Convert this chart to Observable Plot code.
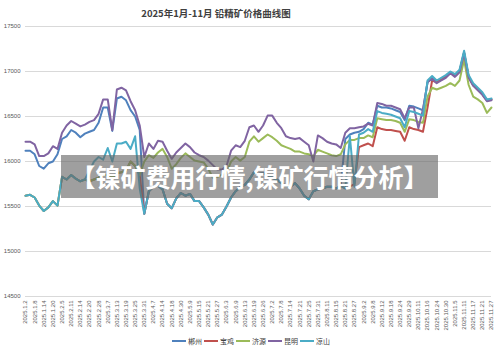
<!DOCTYPE html>
<html><head><meta charset="utf-8">
<script src="https://cdn.jsdelivr.net/npm/d3@7"></script>
<script src="https://cdn.jsdelivr.net/npm/@observablehq/plot@0.6"></script>
<style>
body{margin:0;background:#fff;}
#wrap{position:relative;width:500px;height:355px;overflow:hidden;font-family:"Noto Sans CJK SC","Noto Sans",sans-serif;}
#title{position:absolute;top:6px;left:0;width:432px;text-align:center;font-size:9.5px;font-weight:bold;color:#404040;z-index:2;}
#legend{position:absolute;top:336px;left:172px;display:flex;align-items:center;font-size:7px;color:#404040;z-index:2;}
#legend .it{display:flex;align-items:center;margin-right:2px;}
#legend .sw{display:inline-block;width:14px;height:2px;margin-right:2px;}
#banner{position:absolute;left:61px;top:155px;width:377px;height:43px;background:rgba(100,100,100,0.62);color:#fff;font-weight:bold;font-size:25px;line-height:43px;text-align:center;white-space:nowrap;z-index:3;}
#chart{position:absolute;left:0;top:0;}
</style></head>
<body>
<div id="wrap">
  <div id="chart"></div>
  <div id="title">2025年1月-11月 铅精矿价格曲线图</div>
  <div id="legend"></div>
  <div id="banner">【镍矿费用行情,镍矿行情分析】</div>
</div>
<script>
const dateLabels = ["2025.1.2","2025.1.8","2025.1.14","2025.1.20","2025.2.5","2025.2.11","2025.2.14","2025.2.20","2025.2.28","2025.3.7","2025.3.13","2025.3.19","2025.3.25","2025.3.31","2025.4.7","2025.4.14","2025.4.18","2025.4.30","2025.5.9","2025.5.15","2025.5.21","2025.5.27","2025.6.3","2025.6.9","2025.6.13","2025.6.19","2025.6.26","2025.7.2","2025.7.8","2025.7.14","2025.7.21","2025.7.25","2025.7.31","2025.8.11","2025.8.15","2025.8.21","2025.8.27","2025.9.2","2025.9.8","2025.9.12","2025.9.18","2025.9.24","2025.9.29","2025.10.11","2025.10.16","2025.10.24","2025.10.30","2025.11.5","2025.11.11","2025.11.17","2025.11.21","2025.11.27"];

const seriesNames = ["郴州","宝鸡","济源","昆明","凉山"];
const seriesColors = ["#4F81BD","#C0504D","#9BBB59","#8064A2","#4BACC6"];
const yTicks = [14500,15000,15500,16000,16500,17000,17500];

const chenzhou = [16120,16120,16080,15950,15920,15980,16000,16080,16250,16280,16350,16320,16270,16310,16330,16350,16430,16600,16600,16340,16700,16720,16680,16570,16500,16350,
15420,15670,15720,15730,15690,15530,15480,15590,15650,15620,15640,15560,15560,15490,15410,15300,15380,15410,15500,15600,15670,15715,15740,15800,15880,15860,15870,15850,15820,15800,15760,15730,15720,15760,15700,15620,15580,15670,15690,15700,15720,15720,15700,15730,
16250,16300,16320,16330,16360,16430,16410,16620,16600,16600,16590,16570,16550,16460,16620,16610,16590,16570,16880,16930,16880,16910,16940,16990,16950,17000,17210,16940,16850,16800,16750,16680,16690];

const baoji = [15620,15630,15600,15510,15450,15490,15560,15510,15830,15800,15850,15810,15780,15800,15780,15800,15820,15850,15850,15820,15870,15880,15900,16000,15950,15850,
15420,15670,15720,15730,15690,15530,15480,15590,15650,15620,15640,15560,15560,15490,15410,15300,15380,15410,15500,15600,15670,15715,15740,15800,15880,15860,15870,15850,15820,15800,15760,15730,15720,15760,15700,15620,15580,15670,15690,15700,15720,15720,15700,15730,
15700,15720,15750,16160,16180,16200,16170,16380,16360,16350,16350,16340,16330,16230,16380,16360,16350,16330,16600,16900,16880,16910,16940,16990,16950,17000,17210,16940,16850,16800,16750,16680,16690];

const jiyuan = [15620,15630,15600,15510,15450,15490,15560,15510,15830,15800,15850,15810,15780,15800,15780,15800,15820,15850,15850,15820,15870,15880,15900,16000,15950,15850,
16000,16070,16040,16100,16140,16050,15920,15970,16040,16090,16050,16010,16000,15990,15920,15820,15830,15850,15880,16000,16050,16010,16050,16220,16280,16220,16260,16300,16270,16230,16180,16160,16140,16110,16110,16090,16080,16060,16130,16110,16090,16070,16060,16080,
16190,16240,16240,16260,16260,16290,16270,16480,16470,16460,16460,16450,16430,16330,16470,16460,16440,16430,16720,16820,16800,16820,16840,16870,16840,16900,17130,16850,16720,16690,16650,16540,16600];

const kunming = [16220,16220,16190,16060,16060,16090,16170,16140,16320,16400,16450,16420,16390,16410,16440,16460,16530,16690,16690,16350,16800,16820,16790,16670,16570,16400,
16050,16200,16140,16230,16220,16120,16030,16100,16150,16200,16160,16100,16070,16050,16010,15960,15910,15910,15950,16120,16180,16160,16230,16380,16400,16330,16400,16510,16510,16430,16370,16280,16260,16250,16260,16220,16180,16000,16290,16260,16220,16200,16190,16150,
16320,16370,16370,16380,16390,16420,16400,16650,16640,16620,16620,16600,16580,16480,16600,16600,16370,16580,16880,16920,16870,16900,16930,16980,16940,16990,17200,16930,16840,16790,16740,16670,16680];

const liangshan = [15620,15630,15600,15510,15450,15490,15560,15510,15830,15800,15850,15810,15780,15800,15900,16000,16050,16020,16150,16000,16200,16200,16220,16140,16280,15700,
15420,15670,15720,15730,15690,15530,15480,15590,15650,15620,15640,15560,15560,15490,15410,15300,15380,15410,15500,15600,15670,15715,15740,15800,15880,15860,15870,15850,15820,15800,15760,15730,15720,15760,15700,15620,15580,15670,15690,15700,15720,15720,15700,15730,
15700,16280,15720,16300,16320,16360,16330,16560,16540,16530,16520,16500,16480,16380,16560,16550,16530,16510,16900,16950,16900,16930,16960,17000,16970,17020,17230,16960,16870,16820,16770,16690,16700];

const seriesValues = [chenzhou, baoji, jiyuan, kunming, liangshan];
const N = kunming.length;
const step = (N - 1) / (dateLabels.length - 1);
const tickPos = dateLabels.map((d, i) => i * step);

const lineMarks = seriesValues.map((vals, k) =>
  Plot.line(vals.map((v, i) => ({i, v, name: seriesNames[k]})), {x: "i", y: "v", stroke: seriesColors[k], strokeWidth: 2, strokeLinejoin: "round"})
);

const chart = Plot.plot({
  width: 500, height: 355,
  marginLeft: 25, marginRight: 9, marginTop: 26, marginBottom: 59,
  style: {fontFamily: "'Liberation Sans', Arial, sans-serif", color: "#595959", background: "transparent"},
  x: {domain: [0, N - 1], axis: null},
  y: {domain: [14500, 17500], axis: null},
  marks: [
    Plot.ruleY(yTicks, {stroke: "#d9d9d9", strokeWidth: 1}),
    Plot.axisY(yTicks, {tickSize: 0, tickPadding: 5, fontSize: 6, tickFormat: d => String(d), label: null}),
    Plot.axisX(tickPos, {tickSize: 0, tickPadding: 4, tickRotate: -90, fontSize: 6, tickFormat: (d, i) => dateLabels[i], label: null}),
    ...lineMarks
  ]
});
document.getElementById("chart").appendChild(chart);

const leg = document.getElementById("legend");
seriesNames.forEach((n, k) => {
  const it = document.createElement("span");
  it.className = "it";
  it.innerHTML = `<span class="sw" style="background:${seriesColors[k]}"></span>${n}`;
  leg.appendChild(it);
});
</script>
</body></html>
